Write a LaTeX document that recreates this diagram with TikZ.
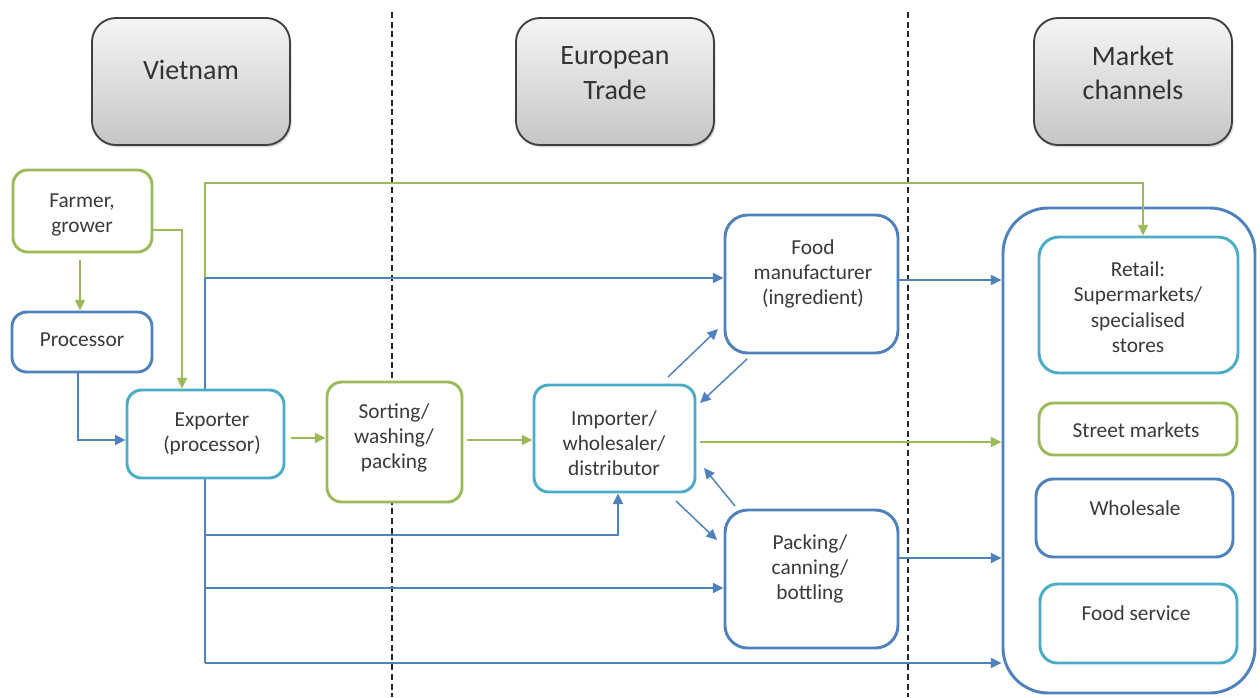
\documentclass[tikz,border=0pt]{standalone}
\usepackage{fontspec}
\setmainfont{Carlito}
\usetikzlibrary{arrows.meta,fit,shadows}
\definecolor{gr}{HTML}{9BBB59}
\definecolor{bl}{HTML}{4F81BD}
\definecolor{tl}{HTML}{4BACC6}
\definecolor{txt}{HTML}{3A3A3A}
\begin{document}
\begin{tikzpicture}[x=0.75pt,y=-0.75pt,
  box/.style={draw, line width=2.2pt, rounded corners=11pt, inner sep=0pt, fill=white},
  gbox/.style={box, draw=gr},
  bbox/.style={box, draw=bl},
  tbox/.style={box, draw=tl},
  head/.style={draw=black!75, line width=1.4pt, rounded corners=18pt, inner sep=0pt,
     top color=gray!8, bottom color=gray!45,
     drop shadow={opacity=0.3, shadow xshift=1.2pt, shadow yshift=-1.8pt}},
  lbl/.style={align=center, font=\fontsize{16}{19}\selectfont, text=txt, inner sep=0pt},
  hlbl/.style={align=center, font=\fontsize{21}{26}\selectfont, text=black!80, inner sep=0pt},
  ln/.style={line width=1.1pt},
  tip/.style={-{Triangle[length=8pt,width=7.5pt]}},
  gline/.style={ln, draw=gr},
  bline/.style={ln, draw=bl},
  gcon/.style={gline, tip},
  bcon/.style={bline, tip},
  sep/.style={draw=black!85, line width=1.6pt, dash pattern=on 4.5pt off 2.8pt}
]
\useasboundingbox (0,0) rectangle (1260,697);

% separators
\coordinate (s1t) at (392,12); \coordinate (s1b) at (392,697);
\coordinate (s2t) at (908,12); \coordinate (s2b) at (908,697);
\draw[sep] (s1t) -- (s1b);
\draw[sep] (s2t) -- (s2b);

% headers
\node[head, fit={(92,18)(290,145)}] (hv) {};
\node[hlbl] (hvt) at (191,70) {Vietnam};
\node[head, fit={(516,18)(714,145)}] (he) {};
\node[hlbl] (het) at (615,73) {European\\Trade};
\node[head, fit={(1034,18)(1232,145)}] (hm) {};
\node[hlbl] (hmt) at (1133,73) {Market\\channels};

% boxes
\node[gbox, fit={(13,170)(152,252)}] (farmer) {};
\node[lbl] (farmert) at (82,215) {Farmer,\\grower};
\node[bbox, fit={(12,312)(152,372)}] (processor) {};
\node[lbl] (processort) at (82,340) {Processor};
\node[tbox, fit={(127,390)(284,478)}] (exporter) {};
\node[lbl] (exportert) at (212,434) {Exporter\\(processor)};
\node[gbox, fit={(327,382)(462,502)}] (sorting) {};
\node[lbl] (sortingt) at (394,438) {Sorting/\\washing/\\packing};
\node[tbox, fit={(534,385)(695,492)}] (importer) {};
\node[lbl] (importert) at (614,443) {Importer/\\wholesaler/\\distributor};
\node[bbox, rounded corners=17pt, fit={(725,215)(898,353)}] (food) {};
\node[lbl] (foodt) at (813,274) {Food\\manufacturer\\(ingredient)};
\node[bbox, rounded corners=17pt, fit={(725,510)(898,648)}] (packing) {};
\node[lbl] (packingt) at (810,569) {Packing/\\canning/\\bottling};

% market container
\node[bbox, rounded corners=34pt, fill=none, fit={(1003,208)(1255,693)}] (market) {};
\node[tbox, rounded corners=15pt, fit={(1039,237)(1238,373)}] (retail) {};
\node[lbl] (retailt) at (1138,307) {Retail:\\Supermarkets/\\specialised\\stores};
\node[gbox, fit={(1039,403)(1237,455)}] (street) {};
\node[lbl] (streett) at (1136,430) {Street markets};
\node[bbox, rounded corners=13pt, fit={(1036,479)(1233,557)}] (wholesale) {};
\node[lbl] (wholesalet) at (1135,508) {Wholesale};
\node[tbox, rounded corners=13pt, fit={(1040,584)(1237,663)}] (foodserv) {};
\node[lbl] (foodservt) at (1136,613) {Food service};

% waypoints
\coordinate (x80) at (80,0);
\coordinate (a1) at (182,230);
\coordinate (b1) at (205,278);
\coordinate (b0) at (205,183);
\coordinate (b2) at (1143,183);
\coordinate (p1) at (78,440);
\coordinate (y438) at (0,438);
\coordinate (y440) at (0,440);
\coordinate (y442) at (0,442);
\coordinate (y280) at (0,280);
\coordinate (y558) at (0,558);
\coordinate (v0) at (205,535);
\coordinate (v1) at (205,588);
\coordinate (v2) at (205,663);
\coordinate (u1) at (618,535);
\coordinate (d1s) at (668,377); \coordinate (d1e) at (718,329);
\coordinate (d2s) at (747,359); \coordinate (d2e) at (700,403);
\coordinate (d3s) at (735,506); \coordinate (d3e) at (704,468);
\coordinate (d4s) at (676,501); \coordinate (d4e) at (717,540);

% connectors
\draw[gcon, shorten <=5pt] (farmer.south -| x80) -- (processor.north -| x80);
\draw[gcon] (farmer.east |- a1) -- (a1) -- (exporter.north -| a1);
\draw[bline] (exporter.north -| b1) -- (b1);
\draw[gcon] (b1) -- (b0) -- (b2) -- (retail.north -| b2);
\draw[bcon] (b1) -- (food.west |- b1);
\draw[bcon] (processor.south -| p1) -- (p1) -- (exporter.west |- p1);
\draw[gcon, shorten <=4pt] (exporter.east |- y438) -- (sorting.west |- y438);
\draw[gcon, shorten <=3pt] (sorting.east |- y440) -- (importer.west |- y440);
\draw[gcon, shorten <=3pt] (importer.east |- y442) -- (market.west |- y442);
\draw[bline] (exporter.south -| v0) -- (v2);
\draw[bcon] (v0) -- (u1) -- (importer.south -| u1);
\draw[bcon] (v1) -- (packing.west |- v1);
\draw[bcon] (v2) -- (market.west |- v2);
\draw[bcon] (d1s) -- (d1e);
\draw[bcon] (d2s) -- (d2e);
\draw[bcon] (d3s) -- (d3e);
\draw[bcon] (d4s) -- (d4e);
\draw[bcon] (food.east |- y280) -- (market.west |- y280);
\draw[bcon] (packing.east |- y558) -- (market.west |- y558);
\end{tikzpicture}
\end{document}
